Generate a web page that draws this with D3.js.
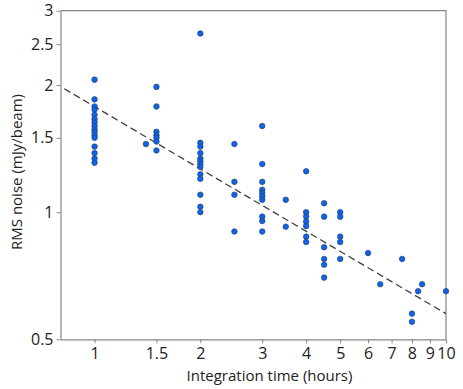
<!DOCTYPE html>
<html>
<head>
<meta charset="utf-8">
<script src="https://cdn.jsdelivr.net/npm/d3@7"></script>
<style>
  body { margin: 0; background: #fff; }
  svg { display: block; font-family: "Open Sans", sans-serif; }
  .axis path, .axis line { stroke: #868686; }
  .axis text { fill: #222; font-size: 16px; font-family: "Open Sans", sans-serif; }
</style>
</head>
<body>
<svg width="463" height="389"></svg>
<script>
// integration time (hours) and RMS noise (mJy/beam)
var hours = [
  1, 1, 1, 1, 1, 1, 1, 1, 1, 1, 1, 1, 1, 1, 1, 1,
  1.4,
  1.5, 1.5, 1.5, 1.5, 1.5, 1.5, 1.5,
  2, 2, 2, 2, 2, 2, 2, 2, 2, 2, 2, 2, 2,
  2.5, 2.5, 2.5, 2.5,
  3, 3, 3, 3, 3, 3, 3, 3, 3, 3,
  3.5, 3.5,
  4, 4, 4, 4, 4, 4, 4,
  4.5, 4.5, 4.5, 4.5, 4.5, 4.5,
  5, 5, 5, 5, 5,
  6, 6.5, 7.5, 8, 8, 8.33, 8.55, 10
];
var noise = [
  2.06, 1.85, 1.78, 1.75, 1.70, 1.66, 1.63, 1.60, 1.57, 1.55, 1.52, 1.50, 1.43, 1.38, 1.34, 1.31,
  1.45,
  1.98, 1.78, 1.55, 1.52, 1.50, 1.47, 1.40,
  2.65, 1.46, 1.43, 1.38, 1.34, 1.32, 1.30, 1.28, 1.23, 1.20, 1.10, 1.03, 1.00,
  1.45, 1.18, 1.10, 0.90,
  1.60, 1.30, 1.18, 1.13, 1.11, 1.09, 1.07, 0.976, 0.953, 0.90,
  1.07, 0.924,
  1.25, 1.00, 0.977, 0.95, 0.927, 0.875, 0.85,
  1.05, 0.976, 0.826, 0.775, 0.751, 0.70,
  1.00, 0.976, 0.875, 0.85, 0.775,
  0.80, 0.675, 0.775, 0.575, 0.55, 0.65, 0.675, 0.65
];

// dashed fit line end points
var fitHours = [0.82, 10];
var fitNoise = [1.96, 0.575];

var xTicks = [1, 1.5, 2, 3, 4, 5, 6, 7, 8, 9, 10];
var yTicks = [0.5, 1, 1.5, 2, 2.5, 3];

var svg = d3.select("svg"),
    plotL = 60.5, plotR = 446, plotT = 10.7, plotB = 339.3;

var x = d3.scaleLog().domain([0.8, 10]).range([plotL, plotR]);
var y = d3.scaleLog().domain([0.5, 3]).range([plotB, plotT]);

// frame (top and right edges)
svg.append("path")
    .attr("d", "M" + plotL + "," + plotT + "H" + plotR + "V" + plotB)
    .attr("fill", "none")
    .attr("stroke", "#868686")
    .attr("stroke-width", 1.2);

svg.append("g")
    .attr("class", "axis")
    .attr("transform", "translate(0," + plotB + ")")
    .call(d3.axisBottom(x).tickValues(xTicks).tickFormat(function(d) { return d; })
      .tickSizeInner(4).tickSizeOuter(0).tickPadding(4));

svg.append("g")
    .attr("class", "axis")
    .attr("transform", "translate(" + plotL + ",0)")
    .call(d3.axisLeft(y).tickValues(yTicks).tickFormat(function(d) { return d; })
      .tickSizeInner(4).tickSizeOuter(0).tickPadding(3));

svg.selectAll(".axis path").attr("stroke-width", 1.2);

// fit line
var fit = fitHours.map(function(h, i) { return [h, fitNoise[i]]; });
svg.append("path")
    .datum(fit)
    .attr("fill", "none")
    .attr("stroke", "#404040")
    .attr("stroke-width", 1.3)
    .attr("stroke-dasharray", "7,4")
    .attr("d", d3.line().x(function(d) { return x(d[0]); }).y(function(d) { return y(d[1]); }));

// points
var pts = hours.map(function(h, i) { return {h: h, n: noise[i]}; });
svg.selectAll(".dot")
    .data(pts)
  .enter().append("circle")
    .attr("class", "dot")
    .attr("r", 2.8)
    .attr("cx", function(d) { return x(d.h); })
    .attr("cy", function(d) { return y(d.n); })
    .attr("fill", "#0d64ea")
    .attr("stroke", "#2d3b55")
    .attr("stroke-width", 0.6);

// axis titles
svg.append("text")
    .attr("x", 269.5)
    .attr("y", 381)
    .attr("text-anchor", "middle")
    .attr("font-size", 15)
    .attr("fill", "#222")
    .text("Integration time (hours)");

svg.append("text")
    .attr("transform", "translate(22,172) rotate(-90)")
    .attr("text-anchor", "middle")
    .attr("font-size", 15)
    .attr("fill", "#222")
    .text("RMS noise (mJy/beam)");
</script>
</body>
</html>
